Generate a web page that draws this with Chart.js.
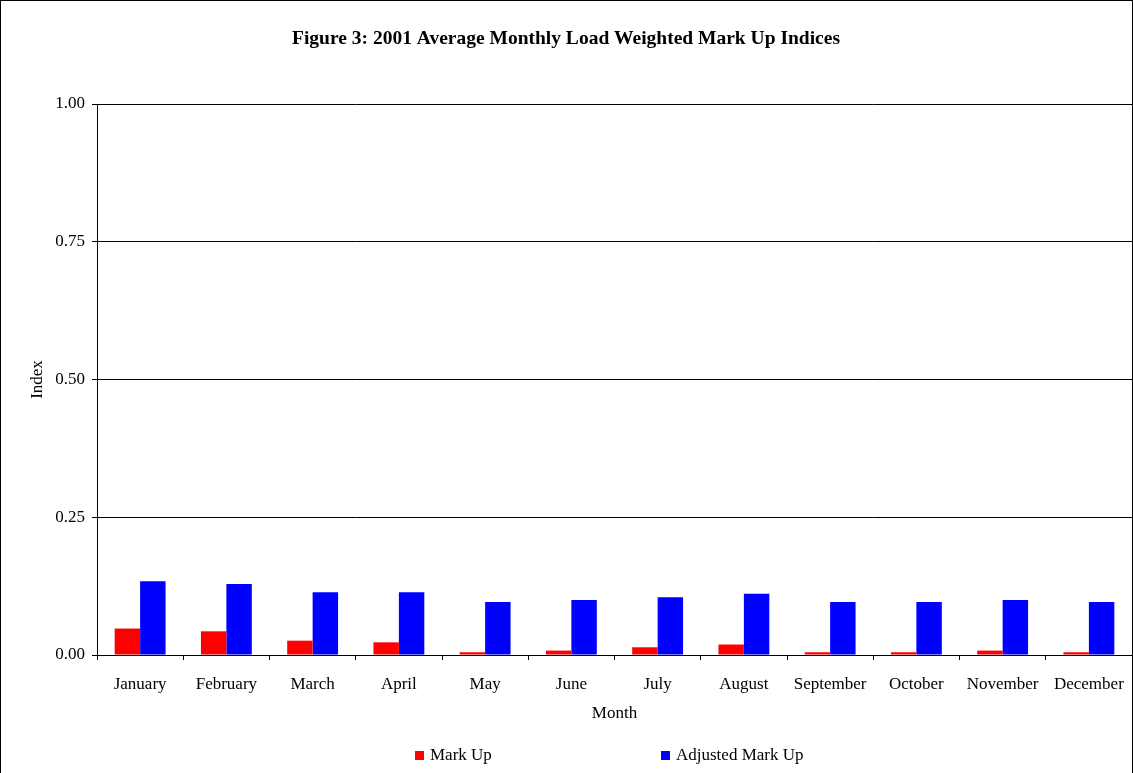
<!DOCTYPE html>
<html>
<head>
<meta charset="utf-8">
<script src="https://cdn.jsdelivr.net/npm/chart.js@4"></script>
<style>
  html, body { margin: 0; padding: 0; background: #fff; }
  #wrap { width: 1133px; height: 773px; position: relative; }
  canvas { display: block; }
</style>
</head>
<body>
<div id="wrap"><canvas id="c" width="1133" height="773"></canvas></div>
<script>
const categories = ["January","February","March","April","May","June","July","August","September","October","November","December"];
const markUp = [0.048, 0.043, 0.026, 0.023, 0.005, 0.008, 0.014, 0.019, 0.005, 0.005, 0.008, 0.005];
const adjustedMarkUp = [0.134, 0.129, 0.114, 0.114, 0.096, 0.100, 0.105, 0.111, 0.096, 0.096, 0.100, 0.096];
const seriesNames = ["Mark Up", "Adjusted Mark Up"];
const seriesColors = ["#ff0000", "#0000ff"];
const yTicks = [0, 0.25, 0.5, 0.75, 1.0];
const titleText = "Figure 3: 2001 Average Monthly Load Weighted Mark Up Indices";

const FONT = "'Liberation Serif', 'Times New Roman', serif";
const FS = 17;

const framePlugin = {
  id: 'frame',
  afterDraw(chart) {
    const ctx = chart.ctx;
    ctx.save();
    ctx.strokeStyle = '#000';
    ctx.lineWidth = 1;
    ctx.strokeRect(0.5, 0.5, chart.width - 1, chart.height + 20);
    // legend
    const items = [
      { x: 415, label: seriesNames[0], color: seriesColors[0] },
      { x: 661, label: seriesNames[1], color: seriesColors[1] }
    ];
    ctx.font = FS + "px " + FONT;
    ctx.textBaseline = 'middle';
    ctx.textAlign = 'left';
    items.forEach(it => {
      ctx.fillStyle = it.color;
      ctx.fillRect(it.x, 751, 9, 9);
      ctx.fillStyle = '#000';
      ctx.fillText(it.label, it.x + 15, 756);
    });
    ctx.restore();
  }
};

new Chart(document.getElementById('c'), {
  type: 'bar',
  data: {
    labels: categories,
    datasets: [
      { label: seriesNames[0], data: markUp, backgroundColor: seriesColors[0], borderWidth: 0 },
      { label: seriesNames[1], data: adjustedMarkUp, backgroundColor: seriesColors[1], borderWidth: 0 }
    ]
  },
  options: {
    responsive: false,
    animation: false,
    devicePixelRatio: 1,
    layout: { padding: { left: 0, right: 1, top: 0, bottom: 49 } },
    plugins: {
      legend: { display: false },
      tooltip: { enabled: false },
      title: {
        display: true,
        text: titleText,
        color: '#000',
        font: { family: FONT, size: 19.5, weight: 'bold' },
        padding: { top: 27, bottom: 53.6 }
      }
    },
    datasets: { bar: { categoryPercentage: 0.59, barPercentage: 1.0 } },
    scales: {
      x: {
        offset: true,
        afterFit(scale) { scale.height = 69; scale.paddingLeft = 0; scale.paddingRight = 0; },
        grid: { display: true, drawOnChartArea: false, drawTicks: true, tickLength: 5, color: '#000', offset: true },
        border: { display: true, color: '#000', width: 1 },
        ticks: { color: '#000', font: { family: FONT, size: FS }, padding: 14, maxRotation: 0, autoSkip: false },
        title: { display: true, text: 'Month', color: '#000', font: { family: FONT, size: FS }, padding: { top: 0, bottom: 0 } }
      },
      y: {
        min: 0, max: 1,
        afterBuildTicks(scale) { scale.ticks = yTicks.map(v => ({ value: v })); },
        afterFit(scale) { scale.width = 97; },
        grid: { display: true, drawOnChartArea: true, drawTicks: true, tickLength: 5, color: '#000' },
        border: { display: true, color: '#000', width: 1 },
        ticks: { color: '#000', font: { family: FONT, size: FS }, padding: 7, callback: v => Number(v).toFixed(2) },
        title: { display: true, text: 'Index', color: '#000', font: { family: FONT, size: FS }, padding: { top: 27, bottom: 0 } }
      }
    }
  },
  plugins: [framePlugin]
});
</script>
</body>
</html>
